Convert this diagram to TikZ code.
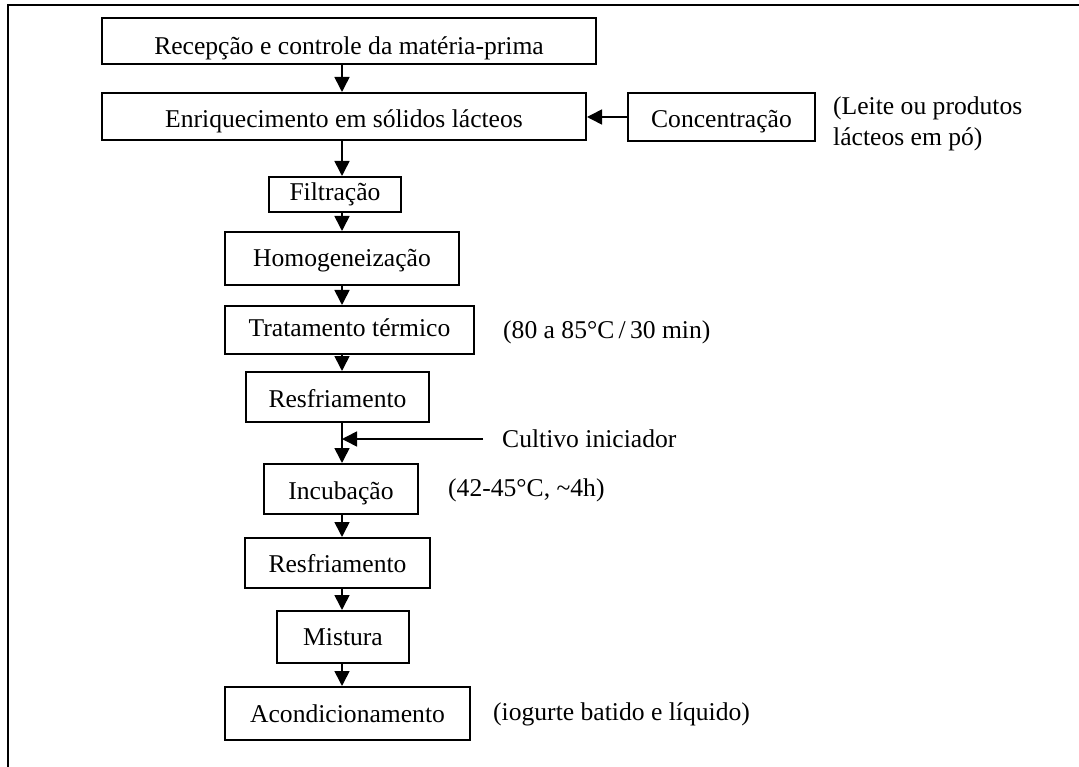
\documentclass[tikz,border=0pt]{standalone}
\usepackage{fontspec}
\setmainfont{Liberation Serif}
\usetikzlibrary{arrows.meta}
\begin{document}
\begin{tikzpicture}[x=1pt,y=-1pt,
  box/.style={draw,line width=2pt,rectangle,inner sep=0pt,text height=18pt,text depth=0pt,font=\fontsize{25.6}{30}\selectfont},
  lbl/.style={anchor=west,inner sep=0pt,align=left,font=\fontsize{25.6}{30.5}\selectfont},
  arr/.style={line width=1.6pt,-{Triangle[length=15pt,width=15pt]}}]
\useasboundingbox (0,0) rectangle (1079,767);
\fill[white] (0,0) rectangle (1079,767);
\draw[line width=2.6pt] (8,767) -- (8,5) -- (1079,5);
\coordinate (col) at (342,0);
\node[box,text height=28pt,minimum width=494pt,minimum height=46pt] (n1) at (349,41) {Recepção e controle da matéria-prima};
\node[box,text height=23pt,minimum width=484pt,minimum height=47pt] (n2) at (344,116.5) {Enriquecimento em sólidos lácteos\hspace{20pt}};
\node[box,text height=22pt,minimum width=187pt,minimum height=48pt] (conc) at (721.5,117) {Concentração};
\node[box,text height=13pt,minimum width=132pt,minimum height=35pt] (n3) at (335,194.5) {Filtração};
\node[box,text height=16pt,minimum width=234pt,minimum height=53pt] (n4) at (342,258.5) {Homogeneização};
\node[box,text height=14pt,minimum width=249pt,minimum height=48pt] (n5) at (349.5,330) {Tratamento térmico};
\node[box,text height=20pt,minimum width=183pt,minimum height=50pt] (n6) at (337.5,397) {Resfriamento};
\node[box,text height=20pt,minimum width=154pt,minimum height=50pt] (n7) at (341,489) {Incubação};
\node[box,text height=18pt,minimum width=185pt,minimum height=50pt] (n8) at (337.5,563) {Resfriamento};
\node[box,text height=16pt,minimum width=132pt,minimum height=52pt] (n9) at (343,637) {Mistura};
\node[box,text height=17pt,minimum width=245pt,minimum height=53pt] (n10) at (347.5,713.5) {Acondicionamento};
\node[lbl] (leite) at (833,124) {(Leite ou produtos\\lácteos em pó)};
\node[lbl] (tratl) at (503,332) {(80 a 85°C\,/\,30 min)};
\node[lbl] (cult) at (502,439) {Cultivo iniciador};
\node[lbl] (incl) at (448,490) {(42-45°C, \textasciitilde4h)};
\node[lbl] (acl) at (493,714) {(iogurte batido e líquido)};
\coordinate (j) at (342,439);
\draw[arr] (n1.south -| col) -- (n2.north -| col);
\draw[arr] (conc.west) -- (conc.west -| n2.east);
\draw[arr] (n2.south -| col) -- (n3.north -| col);
\draw[arr] (n3.south -| col) -- (n4.north -| col);
\draw[arr] (n4.south -| col) -- (n5.north -| col);
\draw[arr] (n5.south -| col) -- (n6.north -| col);
\draw[arr] (n6.south -| col) -- (n7.north -| col);
\draw[arr] ([xshift=-19pt]cult.west) -- (j);
\draw[arr] (n7.south -| col) -- (n8.north -| col);
\draw[arr] (n8.south -| col) -- (n9.north -| col);
\draw[arr] (n9.south -| col) -- (n10.north -| col);
\end{tikzpicture}
\end{document}
